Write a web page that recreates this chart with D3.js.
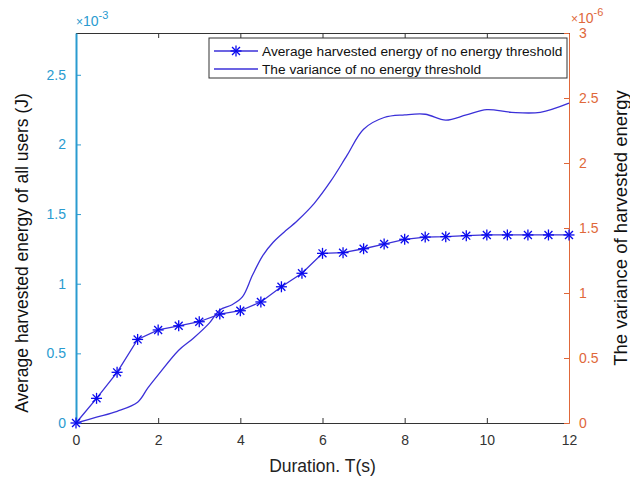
<!DOCTYPE html>
<html>
<head>
<meta charset="utf-8">
<script src="https://cdn.jsdelivr.net/npm/d3@7"></script>
<style>
  body { margin: 0; background: #fff; }
  text { font-family: "Liberation Sans", Arial, sans-serif; }
</style>
</head>
<body>
<div id="chart"></div>
<script>
// durations (s) for the averaged energy
const durations = [0, 0.5, 1, 1.5, 2, 2.5, 3, 3.5, 4, 4.5, 5, 5.5, 6, 6.5, 7, 7.5, 8, 8.5, 9, 9.5, 10, 10.5, 11, 11.5, 12];
// average harvested energy (x1e-3 J)
const avgEnergy = [0, 0.177, 0.364, 0.60, 0.668, 0.698, 0.727, 0.782, 0.806, 0.869, 0.978, 1.075, 1.218, 1.223, 1.251, 1.285, 1.319, 1.335, 1.338, 1.345, 1.35, 1.35, 1.35, 1.35, 1.35];
// variance curve (x1e-6)
const varT = [0, 0.5, 1, 1.5, 1.75, 2, 2.5, 2.85, 3.25, 3.5, 3.8, 4.05, 4.3, 4.55, 4.8, 5, 5.4, 5.8, 6.2, 6.6, 7, 7.5, 8, 8.5, 9, 9.5, 10, 10.6, 11.3, 12];
const variance = [0, 0.045, 0.09, 0.16, 0.27, 0.37, 0.56, 0.65, 0.77, 0.87, 0.91, 0.97, 1.14, 1.29, 1.39, 1.45, 1.56, 1.69, 1.86, 2.06, 2.26, 2.35, 2.37, 2.375, 2.33, 2.37, 2.41, 2.39, 2.39, 2.46];

const xTicks = [0, 2, 4, 6, 8, 10, 12];
const leftTicks = [0, 0.5, 1, 1.5, 2, 2.5];
const rightTicks = [0, 0.5, 1, 1.5, 2, 2.5, 3];
const legendLabels = ["Average harvested energy of no energy threshold", "The variance of no energy threshold"];

const W = 630, H = 477;
const margin = { top: 33, right: 61, bottom: 54, left: 76 };
const width = W - margin.left - margin.right;
const height = H - margin.top - margin.bottom;

const leftColor = "#2a9bd0";
const rightColor = "#e0683a";
const lineColor = "#3b30d8";
const markColor = "#0a0aee";

const svg = d3.select("#chart").append("svg")
    .attr("width", W)
    .attr("height", H);

const g = svg.append("g")
    .attr("transform", `translate(${margin.left},${margin.top})`);

const x = d3.scaleLinear().domain([0, 12]).range([0, width]);
const yL = d3.scaleLinear().domain([0, 2.8]).range([height, 0]);
const yR = d3.scaleLinear().domain([0, 3]).range([height, 0]);

// axes, ticks pointing inward like matlab
function styleAxis(sel, color, size) {
    sel.select(".domain").attr("stroke", color);
    sel.selectAll(".tick line").attr("stroke", color);
    sel.selectAll(".tick text").attr("fill", color).style("font-size", size + "px");
}

const xAxis = g.append("g")
    .attr("transform", `translate(0,${height})`)
    .call(d3.axisBottom(x).tickValues(xTicks).tickSizeInner(-5).tickSizeOuter(0).tickPadding(12));
styleAxis(xAxis, "#333", 14);

const xTop = g.append("g")
    .call(d3.axisTop(x).tickValues(xTicks).tickSizeInner(-5).tickSizeOuter(0).tickFormat(""));
styleAxis(xTop, "#333", 14);

const leftAxis = g.append("g")
    .call(d3.axisLeft(yL).tickValues(leftTicks).tickSizeInner(-5).tickSizeOuter(0).tickPadding(10).tickFormat(d3.format("")));
styleAxis(leftAxis, leftColor, 14);
leftAxis.select(".domain").attr("stroke-width", 2);

const rightAxis = g.append("g")
    .attr("transform", `translate(${width},0)`)
    .call(d3.axisRight(yR).tickValues(rightTicks).tickSizeInner(-5).tickSizeOuter(0).tickPadding(10).tickFormat(d3.format("")));
styleAxis(rightAxis, rightColor, 14);

// exponent labels
function expLabel(xp, yp, color, power) {
    const t = g.append("text").attr("x", xp).attr("y", yp).attr("fill", color).style("font-size", "14px");
    t.append("tspan").style("font-size", "12px").text("\u00d7");
    t.append("tspan").text("10");
    t.append("tspan").attr("dy", -7).style("font-size", "11px").text(power);
}
expLabel(0, -7, leftColor, "-3");
expLabel(width + 2, -10, rightColor, "-6");

// axis titles
svg.append("text")
    .attr("x", margin.left + width / 2).attr("y", H - 5)
    .attr("text-anchor", "middle").attr("fill", "#222")
    .style("font-size", "17.5px").text("Duration. T(s)");

svg.append("text")
    .attr("transform", `translate(28,253) rotate(-90)`)
    .attr("text-anchor", "middle").attr("fill", "#111")
    .style("font-size", "17.5px").text("Average harvested energy of all users (J)");

svg.append("text")
    .attr("transform", `translate(627,228) rotate(-90)`)
    .attr("text-anchor", "middle").attr("fill", "#111")
    .style("font-size", "18.5px").text("The variance of harvested energy");

// series
const avgData = durations.map((d, i) => ({ t: d, v: avgEnergy[i] }));
const varData = varT.map((d, i) => ({ t: d, v: variance[i] }));

g.append("path")
    .datum(varData)
    .attr("fill", "none").attr("stroke", lineColor).attr("stroke-width", 1.3)
    .attr("d", d3.line().x(d => x(d.t)).y(d => yR(d.v)).curve(d3.curveCatmullRom.alpha(0.5)));

g.append("path")
    .datum(avgData)
    .attr("fill", "none").attr("stroke", lineColor).attr("stroke-width", 1.3)
    .attr("d", d3.line().x(d => x(d.t)).y(d => yL(d.v)));

function asterisk(sel, r) {
    sel.append("line").attr("x1", -r).attr("x2", r).attr("y1", 0).attr("y2", 0);
    sel.append("line").attr("x1", 0).attr("x2", 0).attr("y1", -r).attr("y2", r);
    const k = r * 0.72;
    sel.append("line").attr("x1", -k).attr("x2", k).attr("y1", -k).attr("y2", k);
    sel.append("line").attr("x1", -k).attr("x2", k).attr("y1", k).attr("y2", -k);
}

g.selectAll(".mark")
    .data(avgData)
    .join("g")
    .attr("class", "mark")
    .attr("transform", d => `translate(${x(d.t)},${yL(d.v)})`)
    .attr("stroke", markColor).attr("stroke-width", 1.3)
    .each(function () { asterisk(d3.select(this), 5.5); });

// legend
const lg = svg.append("g").attr("transform", "translate(209,38)");
lg.append("rect").attr("width", 358).attr("height", 40)
    .attr("fill", "#fff").attr("stroke", "#333").attr("stroke-width", 1);
legendLabels.forEach((label, i) => {
    const yy = 13 + i * 18;
    lg.append("line").attr("x1", 5).attr("x2", 49).attr("y1", yy).attr("y2", yy)
        .attr("stroke", lineColor).attr("stroke-width", 1.3);
    if (i === 0) {
        lg.append("g").attr("transform", `translate(27,${yy})`)
            .attr("stroke", markColor).attr("stroke-width", 1.3)
            .call(s => asterisk(s, 5.5));
    }
    lg.append("text").attr("x", 53).attr("y", yy + 5)
        .attr("fill", "#111").style("font-size", "13.7px").text(label);
});
</script>
</body>
</html>
